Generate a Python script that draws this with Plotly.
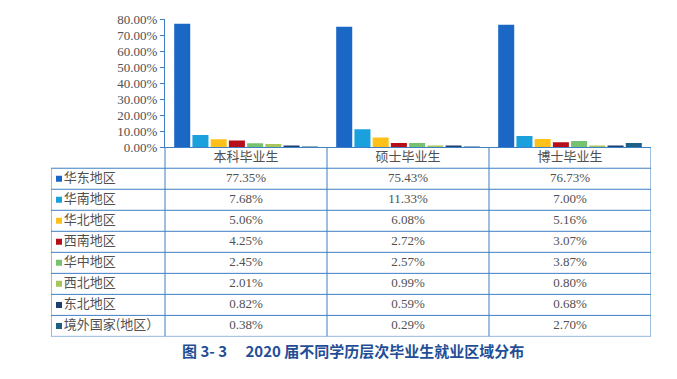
import plotly.graph_objects as go

categories = ["本科毕业生", "硕士毕业生", "博士毕业生"]
regions = ["华东地区", "华南地区", "华北地区", "西南地区", "华中地区", "西北地区", "东北地区", "境外国家(地区）"]
values = {
    "华东地区": [77.35, 75.43, 76.73],
    "华南地区": [7.68, 11.33, 7.00],
    "华北地区": [5.06, 6.08, 5.16],
    "西南地区": [4.25, 2.72, 3.07],
    "华中地区": [2.45, 2.57, 3.87],
    "西北地区": [2.01, 0.99, 0.80],
    "东北地区": [0.82, 0.59, 0.68],
    "境外国家(地区）": [0.38, 0.29, 2.70],
}
colors = ["#1a67c6", "#1aa0dc", "#fdc11a", "#b50f1a", "#76c26f", "#a6c55c", "#1f3f6e", "#1d5f86"]
y_ticks = [0, 10, 20, 30, 40, 50, 60, 70, 80]
title = "图 3- 3　 2020 届不同学历层次毕业生就业区域分布"

W, H = 677, 379
LINE = "#3f7fc3"
TXT = "#505050"
SERIF = "Liberation Serif"
CJK = "Noto Sans CJK SC"

# pixel geometry
plot_l, plot_r = 165, 651
plot_t, plot_b = 13, 146
tab_l, tab_b = 51, 343

def px(x):
    return x / W

def py(y):
    return 1 - y / H

fig = go.Figure()

for reg, col in zip(regions, colors):
    fig.add_trace(go.Bar(
        x=categories, y=values[reg], name=reg, marker_color=col,
        marker_line_width=0, showlegend=False, xaxis="x", yaxis="y",
        hovertemplate="%{x} " + reg + ": %{y:.2f}%<extra></extra>",
    ))

# table axes: x2 numeric with data columns 0..2, label column to the left
col_w = plot_r - plot_l
ncol = len(categories)
unit = col_w / ncol
left_units = -0.5 - (plot_l - tab_l) / unit
nrows = len(regions) + 1

# header text
fig.add_trace(go.Scatter(
    x=list(range(ncol)), y=[0] * ncol, text=categories, mode="text",
    textfont=dict(family=CJK, size=13, color=TXT), xaxis="x2", yaxis="y2",
    showlegend=False, hoverinfo="skip",
))
# value cells
for r, reg in enumerate(regions, start=1):
    fig.add_trace(go.Scatter(
        x=list(range(ncol)), y=[r] * ncol,
        text=[f"{v:.2f}%" for v in values[reg]], mode="text",
        textfont=dict(family=SERIF, size=13, color=TXT), xaxis="x2", yaxis="y2",
        showlegend=False, hoverinfo="skip",
    ))
# row labels with colour squares
sq_x = left_units + 8 / unit
fig.add_trace(go.Scatter(
    x=[sq_x] * len(regions), y=list(range(1, nrows)),
    text=regions, mode="markers+text", textposition="middle right",
    marker=dict(symbol="square", size=6, color=colors),
    textfont=dict(family=CJK, size=13, color=TXT), xaxis="x2", yaxis="y2",
    showlegend=False, hoverinfo="skip",
))

shapes = []
# horizontal row lines
for k in range(1, nrows + 1):
    shapes.append(dict(type="line", xref="x2", yref="y2", x0=left_units, x1=ncol - 0.5,
                       y0=k - 0.5, y1=k - 0.5, line=dict(color=LINE, width=1)))
# vertical column lines
for c in range(ncol + 1):
    shapes.append(dict(type="line", xref="x2", yref="y2", x0=c - 0.5, x1=c - 0.5,
                       y0=-0.5, y1=nrows - 0.5, line=dict(color=LINE, width=1)))
# label column left border
shapes.append(dict(type="line", xref="x2", yref="y2", x0=left_units, x1=left_units,
                   y0=0.5, y1=nrows - 0.5, line=dict(color=LINE, width=1)))

fig.update_layout(
    width=W, height=H, margin=dict(l=0, r=0, t=0, b=0),
    paper_bgcolor="white", plot_bgcolor="white",
    barmode="group", bargap=0.1, bargroupgap=0.12,
    shapes=shapes,
    xaxis=dict(domain=[px(plot_l), px(plot_r)], type="category", range=[-0.5, 2.5],
               showticklabels=False, ticks="", showgrid=False, showline=True,
               linecolor=LINE, linewidth=1, anchor="y", fixedrange=True),
    yaxis=dict(domain=[py(plot_b), py(plot_t)], range=[0, 80], tickvals=y_ticks,
               ticktext=[f"{t:.2f}%" for t in y_ticks], ticks="outside", ticklen=4,
               tickcolor=LINE, showline=True, linecolor=LINE, linewidth=1,
               showgrid=False, zeroline=False, anchor="x",
               tickfont=dict(family=SERIF, size=13, color=TXT), fixedrange=True),
    xaxis2=dict(domain=[px(tab_l), px(plot_r)], range=[left_units, ncol - 0.5],
                visible=False, anchor="y2", fixedrange=True),
    yaxis2=dict(domain=[py(tab_b), py(plot_b)], range=[nrows - 0.5, -0.5],
                visible=False, anchor="x2", fixedrange=True),
    annotations=[dict(text=title, x=px(353), y=py(358), xref="paper", yref="paper",
                      showarrow=False, xanchor="center", yanchor="middle",
                      font=dict(family=CJK, size=15, color="#1f4e96", weight="bold"))],
)

fig.write_html("out.html", config={"displayModeBar": False},
               post_script="document.body.style.margin='0px';")
